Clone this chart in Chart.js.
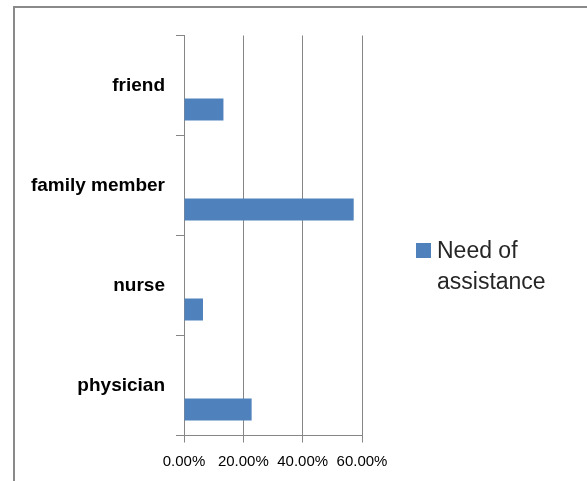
<!DOCTYPE html>
<html>
<head>
<meta charset="utf-8">
<script src="https://cdn.jsdelivr.net/npm/chart.js@4.4.0/dist/chart.umd.min.js"></script>
<style>
  body { margin: 0; background: #fff; }
  #wrap { position: relative; width: 587px; height: 481px; overflow: hidden; }
  #frame {
    position: absolute; left: 13px; top: 6px; right: -10px; bottom: -10px;
    border-top: 2px solid #8a8a8a; border-left: 2px solid #8a8a8a;
  }
  #myChart { position: absolute; left: 0; top: 0; }
  #legende {
    position: absolute; left: 416px; top: 235px;
    font-family: "Liberation Sans", Arial, sans-serif; font-size: 23px;
    line-height: 31px; color: #262626;
  }
  #legende .carre {
    position: absolute; left: 0; top: 8px; width: 15px; height: 15px; background: #4f81bd;
  }
  #legende .texte { margin-left: 21px; }
</style>
</head>
<body>
<div id="wrap">
  <div id="frame"></div>
  <canvas id="myChart" width="587" height="481"></canvas>
  <div id="legende"><div class="carre"></div><div class="texte">Need of<br>assistance</div></div>
</div>
<script>
// catégories (de haut en bas) et pourcentages
const categories = ['friend', 'family member', 'nurse', 'physician'];
const besoinAssistance = [13.3, 57.2, 6.4, 22.8];
const videSerie = [null, null, null, null];
const ticksX = [0, 20, 40, 60];

const graph = document.getElementById('myChart');

new Chart(graph, {
    type: 'bar',
    data: {
        labels: categories,
        datasets: [
            {
                // série vide pour pousser les barres en bas de chaque bande
                label: '',
                data: videSerie,
                backgroundColor: 'rgba(0,0,0,0)'
            },
            {
                label: 'Need of assistance',
                data: besoinAssistance,
                backgroundColor: '#4f81bd',
                borderWidth: 0
            }
        ]
    },
    options: {
        indexAxis: 'y', // barres horizontales
        responsive: false,
        animation: false,
        categoryPercentage: 0.96,
        barPercentage: 0.46,
        layout: {
            padding: { left: 0, top: 35.5, right: 225, bottom: 0 }
        },
        plugins: {
            legend: { display: false },
            tooltip: { enabled: false }
        },
        scales: {
            x: {
                min: 0,
                max: 60,
                afterBuildTicks: (axis) => { axis.ticks = ticksX.map(v => ({ value: v })); },
                afterFit: (axis) => { axis.height = 45.5; },
                grid: {
                    color: '#868686',
                    lineWidth: 1,
                    tickLength: 7,
                    drawTicks: true
                },
                border: { display: true, color: '#868686' },
                ticks: {
                    color: '#000',
                    padding: 10,
                    font: { family: 'Liberation Sans', size: 15 },
                    maxRotation: 0,
                    callback: (v) => v.toFixed(2) + '%'
                }
            },
            y: {
                afterFit: (axis) => { axis.width = 184; },
                grid: {
                    drawOnChartArea: false,
                    drawTicks: true,
                    tickLength: 8,
                    color: '#868686'
                },
                border: { display: true, color: '#868686' },
                ticks: {
                    color: '#000',
                    padding: 11,
                    font: { family: 'Liberation Sans', size: 19, weight: 'bold' }
                }
            }
        }
    }
});
</script>
</body>
</html>
